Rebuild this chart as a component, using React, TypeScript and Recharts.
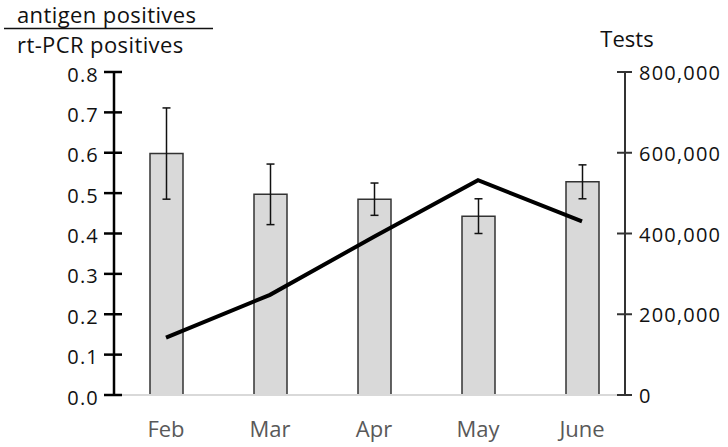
import React from 'react';
import { ComposedChart, Bar, Line, XAxis, YAxis, ErrorBar } from 'recharts';

const months = ['Feb', 'Mar', 'Apr', 'May', 'June'];
const ratio = [0.598, 0.497, 0.485, 0.443, 0.528];
const ratioErr = [0.113, 0.075, 0.04, 0.043, 0.042];
const tests = [142000, 248000, 392000, 532000, 430000];
const leftTicks = [0, 0.1, 0.2, 0.3, 0.4, 0.5, 0.6, 0.7, 0.8];
const rightTicks = [0, 200000, 400000, 600000, 800000];

const data = months.map((m, i) => ({ month: m, ratio: ratio[i], err: ratioErr[i], tests: tests[i] }));

const FONT = '"Open Sans", sans-serif';

const LeftTick = (props: any) => {
  const { x, y, payload } = props;
  const ax = x + 9 + 6;
  return (
    <g>
      <line x1={ax - 10} x2={ax + 8} y1={y} y2={y} stroke="#000" strokeWidth={2.5} />
      <text x={x} y={y} dy={9.5} textAnchor="end" fontSize={20} letterSpacing={1.2} fill="#111" fontFamily={FONT}>
        {Number(payload.value).toFixed(1)}
      </text>
    </g>
  );
};

const RightTick = (props: any) => {
  const { x, y, payload } = props;
  const ax = x - 8 - 6;
  return (
    <g>
      <line x1={ax - 8} x2={ax + 7} y1={y} y2={y} stroke="#333" strokeWidth={2} />
      <text x={x} y={y} dy={8} textAnchor="start" fontSize={20} letterSpacing={1.2} fill="#111" fontFamily={FONT}>
        {Number(payload.value).toLocaleString('en-US')}
      </text>
    </g>
  );
};

export default function App() {
  return (
    <div style={{ position: 'absolute', left: 0, top: 0, width: 728, height: 447, background: '#fff', fontFamily: FONT }}>
      <ComposedChart width={728} height={447} data={data} margin={{ top: 72, right: 0, bottom: 0, left: 0 }}>
        <XAxis
          dataKey="month"
          height={52}
          padding={{ left: 0, right: -9 }}
          axisLine={{ stroke: '#d9d9d9', strokeWidth: 2 }}
          tickLine={false}
          tickSize={0}
          tickMargin={26}
          tick={{ fill: '#595959', fontSize: 22, fontFamily: FONT }}
        />
        <YAxis
          yAxisId="left"
          width={114}
          domain={[0, 0.8]}
          ticks={leftTicks}
          interval={0}
          axisLine={{ stroke: '#000', strokeWidth: 2.5 }}
          tickLine={false}
          tickSize={9}
          tickMargin={6}
          tick={<LeftTick />}
        />
        <YAxis
          yAxisId="right"
          orientation="right"
          width={103}
          domain={[0, 800000]}
          ticks={rightTicks}
          interval={0}
          axisLine={{ stroke: '#333', strokeWidth: 2 }}
          tickLine={false}
          tickSize={8}
          tickMargin={6}
          tick={<RightTick />}
        />
        <Bar yAxisId="left" dataKey="ratio" barSize={33} fill="#d9d9d9" stroke="#333" strokeWidth={1.5} isAnimationActive={false}>
          <ErrorBar dataKey="err" width={4} stroke="#111" strokeWidth={1.5} direction="y" />
        </Bar>
        <Line yAxisId="right" type="linear" dataKey="tests" stroke="#000" strokeWidth={4} dot={false} activeDot={false} isAnimationActive={false} />
      </ComposedChart>
      <svg width={728} height={447} style={{ position: 'absolute', left: 0, top: 0, pointerEvents: 'none' }}>
        <text x={17} y={23} fontSize={22} letterSpacing={0.4} fill="#111" fontFamily={FONT}>antigen positives</text>
        <line x1={4} x2={213} y1={28.5} y2={28.5} stroke="#111" strokeWidth={1.5} />
        <text x={17} y={53} fontSize={22} letterSpacing={0.4} fill="#111" fontFamily={FONT}>rt-PCR positives</text>
        <text x={627} y={47} fontSize={22} textAnchor="middle" fill="#111" fontFamily={FONT}>Tests</text>
      </svg>
    </div>
  );
}
